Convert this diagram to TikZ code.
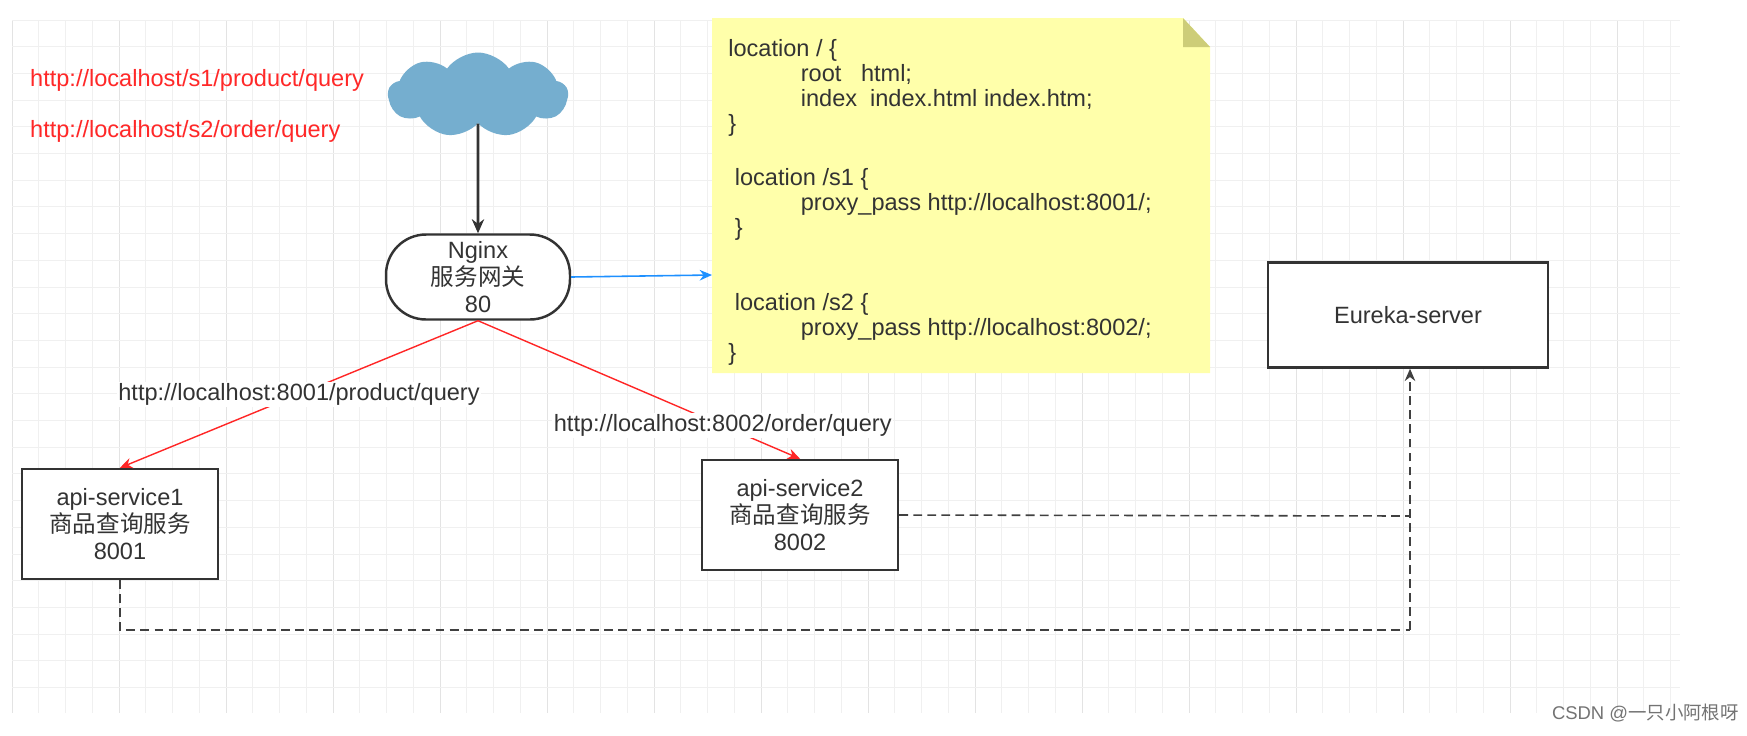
\documentclass[tikz,border=0pt]{standalone}
\usepackage{fontspec}
\setmainfont{Liberation Sans}
\newfontfamily\cjk{Noto Sans CJK SC}
\usetikzlibrary{arrows.meta,shapes.symbols}
\begin{document}
\begin{tikzpicture}[x=0.02cm,y=-0.02cm,
  every node/.style={font=\fontsize{13.4}{15.5}\selectfont, text=black!80, align=center},
  box/.style={draw=black!80, line width=1.4pt, fill=white, minimum width=3.92cm, minimum height=2.2cm},
  red/.style={text={rgb,255:red,255;green,40;blue,40}},
  rl/.style={draw=red!85!white, line width=0.8pt, -{Stealth[length=7pt,width=6pt]}},
  dl/.style={draw=black!75, line width=0.9pt, dash pattern=on 5pt off 3pt}]
\useasboundingbox (0,0) rectangle (1747,735);
\fill[white] (0,0) rectangle (1747,735);
\foreach \i in {0,...,62} {\draw[line width=0.5pt, black!6] (12+26.75*\i,20) -- (12+26.75*\i,713);}
\foreach \i in {0,...,15} {\draw[line width=0.5pt, black!11] (12+107*\i,20) -- (12+107*\i,713);}
\foreach \j in {0,...,25} {\draw[line width=0.5pt, black!6] (12,20+26.7*\j) -- (1680,20+26.7*\j);}
\node[red, anchor=west] (u1) at (24,80) {http://localhost/s1/product/query};
\node[red, anchor=west] (u2) at (24,131) {http://localhost/s2/order/query};
\definecolor{cloudc}{RGB}{117,174,207}
\definecolor{notec}{RGB}{255,255,170}
\definecolor{foldc}{RGB}{205,205,120}
\definecolor{bluec}{RGB}{30,144,255}
\node[cloud, cloud puffs=9, cloud puff arc=110, aspect=2.3, fill=cloudc, minimum width=3.6cm, minimum height=1.7cm, inner sep=0pt] (cl) at (478,95) {};
\node[draw=black!80, line width=1.4pt, rounded corners=0.8cm, minimum width=3.68cm, minimum height=1.7cm, fill=white] (ng) at (478,277) {Nginx\\{\cjk 服务网关}\\80};
\draw[black!80, line width=1.6pt, -{Stealth[length=8pt,width=7pt]}] (cl.south) -- (ng.north);
% note
\fill[notec] (712,18) -- (1183,18) -- (1210,47) -- (1210,373) -- (712,373) -- cycle;
\fill[foldc] (1183,18) -- (1210,47) -- (1183,47) -- cycle;
\coordinate (nt) at (712,275);
\node[anchor=north west, align=left, inner sep=0pt, font=\fontsize{13.4}{14.3}\selectfont] (note) at (728,39) {location / \{\\
\hspace*{1.45cm}root \ \ html;\\
\hspace*{1.45cm}index \ index.html index.htm;\\
\}\\[16pt]
\ location /s1 \{\\
\hspace*{1.45cm}proxy\_pass http://localhost:8001/;\\
\ \}\\[28.6pt]
\ location /s2 \{\\
\hspace*{1.45cm}proxy\_pass http://localhost:8002/;\\
\}};
\draw[bluec, line width=0.9pt, -{Stealth[length=7pt,width=6pt]}] (ng.east) -- (nt);
\node[box, minimum width=5.6cm, minimum height=2.1cm] (eu) at (1408,315) {Eureka-server};
\node[box] (a1) at (120,524) {api-service1\\{\cjk 商品查询服务}\\8001};
\node[box] (a2) at (800,515) {api-service2\\{\cjk 商品查询服务}\\8002};
\draw[rl] (ng.south) -- (a1.north) node[pos=0.5, fill=white, inner sep=1pt, text=black!80] {http://localhost:8001/product/query};
\draw[rl] (ng.south) -- (a2.north) node[pos=0.76, fill=white, inner sep=1pt, text=black!80] {http://localhost:8002/order/query};
\coordinate (j1) at (1410,516);
\coordinate (c1) at (120,630);
\coordinate (c2) at (1410,630);
\draw[dl] (a2.east) -- (j1);
\draw[dl] (a1.south) -- (c1) -- (c2);
\draw[dl, -{Stealth[length=7pt,width=6pt]}] (c2) -- (eu.south -| c2);
\node[anchor=east, text=black!55, font=\fontsize{10.5}{12}\selectfont] (wm) at (1745,713) {CSDN @{\cjk 一只小阿根呀}};
\end{tikzpicture}
\end{document}
